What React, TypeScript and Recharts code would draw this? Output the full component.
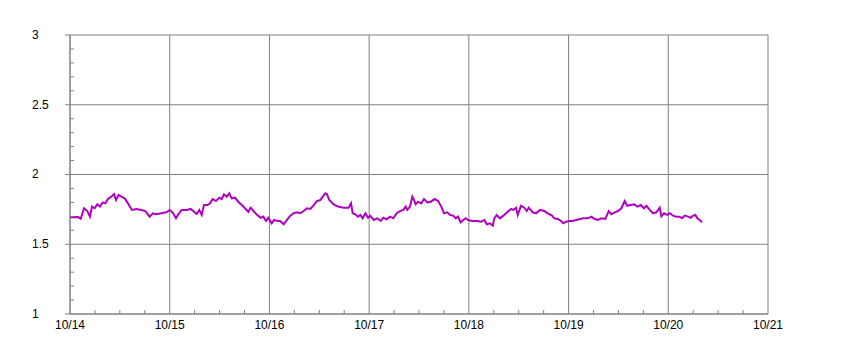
import React from "react";
import { LineChart, Line, XAxis, YAxis, CartesianGrid } from "recharts";

// hours since 10/14 00:00
const hours = [
  0, 0.17, 1.93, 2.58, 3.37, 4.16, 4.81, 5.3, 5.95, 6.57, 7.22, 7.87, 8.5, 9.15, 9.94, 10.59, 11.07, 11.72,
  12.35, 13.17, 13.96, 14.92, 15.96, 17.16, 18.12, 19.18, 19.98, 20.77, 21.98, 23.18, 24.0,
  24.86, 25.51, 26.07, 26.89, 28.09, 29.05, 29.85, 30.5, 31.12, 31.7, 32.25, 33.05, 33.7, 34.35, 35.14,
  35.94, 36.51, 37.07, 37.72, 38.34, 38.92, 39.72, 40.51, 41.33, 42.12, 42.92, 43.5, 44.29, 45.08, 45.9,
  46.53, 47.18, 47.73, 48.55, 49.1, 49.9,
  50.62, 51.44, 52.23, 53.03, 53.84, 54.64, 55.43, 56.25, 57.05, 57.84, 58.66, 59.45, 60.25, 60.83, 61.45,
  61.86, 62.41, 63.47, 64.51, 65.88, 67.08, 67.64, 68.05, 68.67, 69.32, 69.88, 70.45, 71.08, 71.73, 72.28,
  73.1, 73.97,
  74.79, 75.41, 76.23, 77.02, 77.82, 78.64, 79.43, 80.23, 80.8, 81.19, 81.84, 82.39, 82.8, 83.21, 83.76,
  84.56, 85.21, 86.0, 86.82, 87.78, 88.58, 89.37, 90.02, 90.82, 91.47, 92.26, 92.84, 93.39, 94.04, 94.67,
  95.24, 95.8, 96.83, 98.04,
  98.93, 99.72, 100.3, 101.09, 101.74, 102.13, 102.71, 103.5, 104.3, 105.35, 106.15, 106.7, 107.35, 107.76,
  108.56, 109.35, 109.93, 110.41, 111.37, 112.17, 113.13, 114.17, 114.98, 116.02, 116.57, 117.39, 118.18,
  118.74, 119.39, 120.18, 121.0, 121.79, 122.76, 123.55,
  124.68, 125.48, 126.29, 127.09, 127.88, 128.85, 129.66, 130.29, 131.11, 131.9, 132.7, 133.52, 134.14,
  134.96, 135.76, 136.55, 137.37, 138.16, 138.72, 139.54, 140.33, 141.12, 141.94, 142.33, 142.98, 143.77,
  144.35, 145.15, 145.94, 146.76, 147.31, 147.96, 148.75, 149.4, 149.96, 150.51, 150.99, 151.57, 152.12,
];

const values = [
  1.693, 1.693, 1.695, 1.683, 1.758, 1.738, 1.698, 1.77, 1.758, 1.786, 1.77, 1.8, 1.793, 1.824, 1.841, 1.86, 1.817, 1.853,
  1.841, 1.829, 1.793, 1.746, 1.753, 1.746, 1.738, 1.698, 1.722, 1.715, 1.722, 1.729, 1.746,
  1.722, 1.686, 1.715, 1.746, 1.746, 1.753, 1.733, 1.717, 1.746, 1.71, 1.781, 1.781, 1.793, 1.824, 1.81,
  1.834, 1.824, 1.858, 1.841, 1.865, 1.829, 1.834, 1.805, 1.781, 1.758, 1.733, 1.762, 1.733, 1.71, 1.69,
  1.698, 1.667, 1.69, 1.65, 1.674, 1.667,
  1.667, 1.643, 1.674, 1.705, 1.722, 1.729, 1.722, 1.738, 1.758, 1.753, 1.781, 1.81, 1.817, 1.841, 1.865,
  1.858, 1.817, 1.786, 1.77, 1.762, 1.762, 1.793, 1.722, 1.715, 1.698, 1.71, 1.686, 1.722, 1.69, 1.705,
  1.674, 1.686,
  1.667, 1.69, 1.679, 1.698, 1.686, 1.722, 1.738, 1.746, 1.77, 1.746, 1.77, 1.841, 1.817, 1.786, 1.805,
  1.793, 1.824, 1.8, 1.805, 1.824, 1.81, 1.77, 1.722, 1.729, 1.71, 1.705, 1.686, 1.698, 1.657, 1.674,
  1.686, 1.674, 1.667, 1.667,
  1.662, 1.674, 1.643, 1.65, 1.633, 1.686, 1.71, 1.686, 1.705, 1.733, 1.753, 1.746, 1.762, 1.71,
  1.776, 1.762, 1.738, 1.762, 1.729, 1.722, 1.746, 1.738, 1.722, 1.705, 1.686, 1.681, 1.667,
  1.65, 1.662, 1.667, 1.667, 1.674, 1.681, 1.686,
  1.686, 1.698, 1.681, 1.674, 1.686, 1.681, 1.738, 1.715, 1.729, 1.738, 1.758, 1.81, 1.776,
  1.781, 1.786, 1.77, 1.781, 1.758, 1.776, 1.746, 1.722, 1.729, 1.762, 1.7, 1.722, 1.71,
  1.722, 1.705, 1.698, 1.698, 1.686, 1.705, 1.698, 1.69, 1.705, 1.71, 1.686, 1.674, 1.657,
];

const dayTicks = [0, 24, 48, 72, 96, 120, 144, 168];
const dayLabels = ["10/14", "10/15", "10/16", "10/17", "10/18", "10/19", "10/20", "10/21"];
const minorXTicks = [6, 12, 18, 30, 36, 42, 54, 60, 66, 78, 84, 90, 102, 108, 114, 126, 132, 138, 150, 156, 162];
const yTicks = [1, 1.5, 2, 2.5, 3];
const minorYTicks = [1.1, 1.2, 1.3, 1.4, 1.6, 1.7, 1.8, 1.9, 2.1, 2.2, 2.3, 2.4, 2.6, 2.7, 2.8, 2.9];

const data = hours.map((h, i) => ({ t: h, v: values[i] }));

const FONT = "'Liberation Sans', Arial, sans-serif";
const GRAY = "#808080";

const YTick = (props: any) => (
  <text
    x={props.x - 31}
    y={props.y}
    dy="0.32em"
    textAnchor="start"
    fontSize={12}
    fontFamily={FONT}
    fill="#000"
  >
    {String(props.payload.value)}
  </text>
);

export default function App() {
  return (
    <div style={{ position: "absolute", left: 0, top: 0 }}>
      <LineChart
        width={868}
        height={349}
        data={data}
        margin={{ top: 35, right: 100, bottom: 0, left: 0 }}
      >
        <CartesianGrid stroke={GRAY} strokeWidth={1} />
        <XAxis
          dataKey="t"
          type="number"
          domain={[0, 168]}
          ticks={dayTicks}
          interval={0}
          tickFormatter={(v: number) => dayLabels[dayTicks.indexOf(v)] ?? ""}
          tickLine={false}
          tickSize={6}
          tickMargin={0}
          height={35}
          axisLine={{ stroke: GRAY }}
          tick={{ fontSize: 12, fontFamily: FONT, fill: "#000" }}
        />
        <XAxis
          xAxisId="minor"
          dataKey="t"
          type="number"
          domain={[0, 168]}
          ticks={minorXTicks}
          interval={0}
          mirror
          tickSize={4}
          tickLine={{ stroke: GRAY }}
          axisLine={false}
          tickFormatter={() => ""}
          height={10}
        />
        <YAxis
          type="number"
          domain={[1, 3]}
          ticks={yTicks}
          interval={0}
          width={70}
          tickSize={5}
          tickLine={{ stroke: GRAY }}
          axisLine={{ stroke: GRAY }}
          tick={<YTick />}
        />
        <YAxis
          yAxisId="minor"
          type="number"
          domain={[1, 3]}
          ticks={minorYTicks}
          interval={0}
          mirror
          width={10}
          tickSize={4}
          tickLine={{ stroke: GRAY }}
          axisLine={false}
          tickFormatter={() => ""}
        />
        <Line
          xAxisId="minor"
          yAxisId="minor"
          type="linear"
          dataKey="v"
          stroke="none"
          strokeWidth={0}
          dot={false}
          activeDot={false}
          isAnimationActive={false}
        />
        <Line
          type="linear"
          dataKey="v"
          stroke="#B000C0"
          strokeWidth={2}
          dot={false}
          isAnimationActive={false}
        />
      </LineChart>
    </div>
  );
}
